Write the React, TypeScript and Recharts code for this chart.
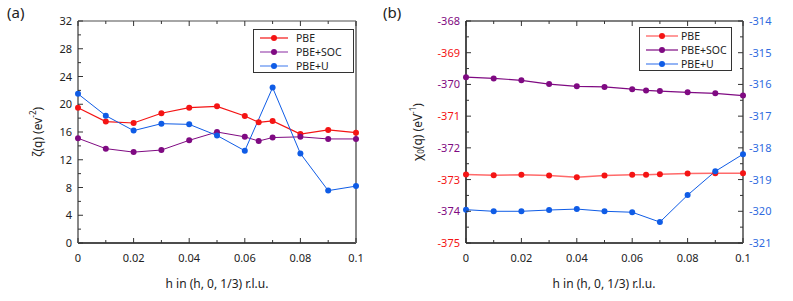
import { LineChart, Line, XAxis, YAxis } from 'recharts'

// h values in (h, 0, 1/3) r.l.u.
const hAll = [0, 0.01, 0.02, 0.03, 0.04, 0.05, 0.06, 0.065, 0.07, 0.08, 0.09, 0.1]
const hU = [0, 0.01, 0.02, 0.03, 0.04, 0.05, 0.06, 0.07, 0.08, 0.09, 0.1]

// panel (a): zeta(q)
const zetaPBE = [19.5, 17.5, 17.3, 18.7, 19.5, 19.7, 18.3, 17.4, 17.6, 15.7, 16.3, 15.9]
const zetaSOC = [15.1, 13.6, 13.1, 13.4, 14.8, 16.0, 15.3, 14.7, 15.2, 15.3, 15.0, 15.0]
const zetaU = [21.5, 18.35, 16.2, 17.2, 17.1, 15.5, 13.3, 22.4, 12.9, 7.55, 8.2]

// panel (b): chi0(q); PBE and PBE+SOC on left axis, PBE+U on right axis
const chiPBE = [-372.84, -372.86, -372.85, -372.87, -372.93, -372.87, -372.85, -372.85, -372.83, -372.81, -372.8, -372.8]
const chiSOC = [-369.77, -369.81, -369.87, -369.99, -370.06, -370.08, -370.15, -370.19, -370.21, -370.25, -370.28, -370.35]
const chiU = [-319.95, -320.0, -320.0, -319.96, -319.93, -320.0, -320.03, -320.34, -319.49, -318.74, -318.2]

const xTicks = [0, 0.01, 0.02, 0.03, 0.04, 0.05, 0.06, 0.07, 0.08, 0.09, 0.1]
const zetaTicks = [0, 2, 4, 6, 8, 10, 12, 14, 16, 18, 20, 22, 24, 26, 28, 30, 32]
const chiLeftTicks = [-375, -374.5, -374, -373.5, -373, -372.5, -372, -371.5, -371, -370.5, -370, -369.5, -369, -368.5, -368]
const chiRightTicks = [-321, -320.5, -320, -319.5, -319, -318.5, -318, -317.5, -317, -316.5, -316, -315.5, -315, -314.5, -314]

const RED = '#f41414'
const PURPLE = '#7f0a82'
const BLUE = '#0f5ce6'
const TXT = '#222'

const uAt = (h: number) => hU.findIndex(v => Math.abs(v - h) < 1e-9)

const dataA = hAll.map((h, i) => {
  const j = uAt(h)
  return { h, pbe: zetaPBE[i], soc: zetaSOC[i], u: j >= 0 ? zetaU[j] : null }
})
const dataB = hAll.map((h, i) => {
  const j = uAt(h)
  return { h, pbe: chiPBE[i], soc: chiSOC[i], u: j >= 0 ? chiU[j] : null }
})

type Side = 'bottom' | 'top' | 'left' | 'right'
function makeTick(side: Side, isMajor: (v: number) => boolean, label?: (v: number) => string, color?: (v: number) => string) {
  return (props: any) => {
    const { x, y, payload } = props
    const v = payload.value
    const m = isMajor(v)
    const len = m ? 5 : 3
    const txt = m && label ? label(v) : null
    const fill = color ? color(v) : TXT
    if (side === 'bottom') {
      return (
        <g>
          <line x1={x} y1={y} x2={x} y2={y - len} stroke="#333" strokeWidth={1} />
          {txt !== null ? <text x={x} y={y + 19} textAnchor="middle" fontSize={11} fill={fill}>{txt}</text> : null}
        </g>
      )
    }
    if (side === 'top') {
      return <line x1={x} y1={y} x2={x} y2={y + len} stroke="#333" strokeWidth={1} />
    }
    if (side === 'left') {
      return (
        <g>
          <line x1={x} y1={y} x2={x + len} y2={y} stroke="#333" strokeWidth={1} />
          {txt !== null ? <text x={x - 6} y={y + 4} textAnchor="end" fontSize={11} fill={fill}>{txt}</text> : null}
        </g>
      )
    }
    return (
      <g>
        <line x1={x} y1={y} x2={x - len} y2={y} stroke="#333" strokeWidth={1} />
        {txt !== null ? <text x={x + 6} y={y + 4} textAnchor="start" fontSize={11} fill={fill}>{txt}</text> : null}
      </g>
    )
  }
}

const xMajor = (v: number) => Math.round(v * 100) % 2 === 0
const xLabel = (v: number) => String(Math.round(v * 100) / 100)
const zMajor = (v: number) => v % 4 === 0
const intMajor = (v: number) => Number.isInteger(v)
const chiLeftColor = (v: number) => (Math.abs(v) % 2 === 0 ? PURPLE : RED)

type LegendItem = { name: string, line: string, dot: string, w: number }
function LegendBox({ left, top, width, lineFrom, lineTo, textAt, items }: { left: number, top: number, width: number, lineFrom: number, lineTo: number, textAt: number, items: LegendItem[] }) {
  return (
    <div style={{ position: 'absolute', left, top, width, height: 44, border: '1px solid #333', background: '#fff', boxSizing: 'border-box', padding: '0.5px 0' }}>
      {items.map(it => (
        <div key={it.name} style={{ height: 14, display: 'flex', alignItems: 'center' }}>
          <svg width={textAt - 1} height={14} style={{ flex: 'none' }}>
            <line x1={lineFrom} y1={7} x2={lineTo} y2={7} stroke={it.line} strokeWidth={it.w} />
            <circle cx={(lineFrom + lineTo) / 2} cy={7} r={3} fill={it.dot} />
          </svg>
          <span style={{ fontSize: 10.5, color: TXT, lineHeight: '14px', whiteSpace: 'nowrap' }}>{it.name}</span>
        </div>
      ))}
    </div>
  )
}

export default function App() {
  return (
    <div style={{ position: 'absolute', left: 0, top: 0, width: 793, height: 301, background: '#fff', fontFamily: '"Noto Sans", sans-serif' }}>
      <div style={{ position: 'absolute', left: 0, top: 0 }}>
        <LineChart width={400} height={301} data={dataA} margin={{ top: 20, right: 43, bottom: 0, left: 18 }}>
          <XAxis xAxisId="b" dataKey="h" type="number" domain={[0, 0.1]} ticks={xTicks} interval={0} height={58}
            tickSize={0} tickMargin={0} tickLine={false} axisLine={{ stroke: '#111', strokeWidth: 1.5 }}
            tick={makeTick('bottom', xMajor, xLabel)} />
          <XAxis xAxisId="t" orientation="top" dataKey="h" type="number" domain={[0, 0.1]} ticks={xTicks} interval={0} height={1}
            tickSize={0} tickMargin={0} tickLine={false} axisLine={{ stroke: '#888', strokeWidth: 1.5 }}
            tick={makeTick('top', xMajor)} />
          <YAxis yAxisId="l" type="number" domain={[0, 32]} ticks={zetaTicks} interval={0} width={60}
            tickSize={0} tickMargin={0} tickLine={false} axisLine={{ stroke: '#888', strokeWidth: 2 }}
            tick={makeTick('left', zMajor, v => String(v))} />
          <YAxis yAxisId="r" orientation="right" type="number" domain={[0, 32]} ticks={zetaTicks} interval={0} width={1}
            tickSize={0} tickMargin={0} tickLine={false} axisLine={{ stroke: '#888', strokeWidth: 2 }}
            tick={makeTick('right', zMajor)} />
          <Line xAxisId="b" yAxisId="l" dataKey="pbe" stroke={RED} strokeWidth={1.2} dot={{ r: 3, fill: RED, stroke: 'none' }} isAnimationActive={false} />
          <Line xAxisId="b" yAxisId="l" dataKey="soc" stroke={PURPLE} strokeWidth={1} dot={{ r: 3, fill: PURPLE, stroke: 'none' }} isAnimationActive={false} />
          <Line xAxisId="b" yAxisId="l" dataKey="u" stroke={BLUE} strokeWidth={1} connectNulls dot={{ r: 3, fill: BLUE, stroke: 'none' }} isAnimationActive={false} />
        </LineChart>
      </div>
      <div style={{ position: 'absolute', left: 400, top: 0 }}>
        <LineChart width={393} height={301} data={dataB} margin={{ top: 20, right: 0, bottom: 0, left: 6 }}>
          <XAxis xAxisId="b" dataKey="h" type="number" domain={[0, 0.1]} ticks={xTicks} interval={0} height={58}
            tickSize={0} tickMargin={0} tickLine={false} axisLine={{ stroke: '#111', strokeWidth: 1.5 }}
            tick={makeTick('bottom', xMajor, xLabel)} />
          <XAxis xAxisId="t" orientation="top" dataKey="h" type="number" domain={[0, 0.1]} ticks={xTicks} interval={0} height={1}
            tickSize={0} tickMargin={0} tickLine={false} axisLine={{ stroke: '#555', strokeWidth: 1.5 }}
            tick={makeTick('top', xMajor)} />
          <YAxis yAxisId="l" type="number" domain={[-375, -368]} ticks={chiLeftTicks} interval={0} width={60}
            tickSize={0} tickMargin={0} tickLine={false} axisLine={{ stroke: '#111', strokeWidth: 1.5 }}
            tick={makeTick('left', intMajor, v => String(v), chiLeftColor)} />
          <YAxis yAxisId="r" orientation="right" type="number" domain={[-321, -314]} ticks={chiRightTicks} interval={0} width={50}
            tickSize={0} tickMargin={0} tickLine={false} axisLine={{ stroke: '#777', strokeWidth: 2 }}
            tick={makeTick('right', intMajor, v => String(v), () => '#2f6be0')} />
          <Line xAxisId="b" yAxisId="l" dataKey="pbe" stroke="#ff6a6a" strokeWidth={1.5} dot={{ r: 3, fill: RED, stroke: 'none' }} isAnimationActive={false} />
          <Line xAxisId="b" yAxisId="l" dataKey="soc" stroke={PURPLE} strokeWidth={1.2} dot={{ r: 3, fill: PURPLE, stroke: 'none' }} isAnimationActive={false} />
          <Line xAxisId="b" yAxisId="r" dataKey="u" stroke={BLUE} strokeWidth={1} connectNulls dot={{ r: 3, fill: BLUE, stroke: 'none' }} isAnimationActive={false} />
        </LineChart>
      </div>
      <svg width={793} height={301} style={{ position: 'absolute', left: 0, top: 0, pointerEvents: 'none' }}>
        <text x={7} y={18} fontSize={15} fill={TXT}>(a)</text>
        <text x={383} y={18} fontSize={15} fill={TXT}>(b)</text>
        <text x={37} y={132} transform="rotate(-90 37 132)" textAnchor="middle" dominantBaseline="central" fontSize={12} fill={TXT}>
          ζ(q) (ev<tspan dy={-5} fontSize={8}>-2</tspan><tspan dy={5}>)</tspan>
        </text>
        <text x={417} y={132} transform="rotate(-90 417 132)" textAnchor="middle" dominantBaseline="central" fontSize={12} fill={TXT}>
          χ<tspan dy={3} fontSize={8}>0</tspan><tspan dy={-3}>(q) (eV</tspan><tspan dy={-5} fontSize={8}>-1</tspan><tspan dy={5}>)</tspan>
        </text>
        <text x={217} y={288} textAnchor="middle" fontSize={12} fill={TXT}>h in (h, 0, 1/3) r.l.u.</text>
        <text x={604} y={288} textAnchor="middle" fontSize={12} fill={TXT}>h in (h, 0, 1/3) r.l.u.</text>
      </svg>
      <LegendBox left={253} top={29} width={101} lineFrom={6} lineTo={34} textAt={43} items={[
        { name: 'PBE', line: RED, dot: RED, w: 1.2 },
        { name: 'PBE+SOC', line: '#b070c0', dot: PURPLE, w: 1.5 },
        { name: 'PBE+U', line: '#5b8ef0', dot: BLUE, w: 1.2 },
      ]} />
      <LegendBox left={639} top={27} width={93} lineFrom={6} lineTo={38} textAt={42} items={[
        { name: 'PBE', line: '#ff9a9a', dot: RED, w: 2 },
        { name: 'PBE+SOC', line: PURPLE, dot: PURPLE, w: 1.2 },
        { name: 'PBE+U', line: '#4a82ee', dot: BLUE, w: 1.2 },
      ]} />
    </div>
  )
}
